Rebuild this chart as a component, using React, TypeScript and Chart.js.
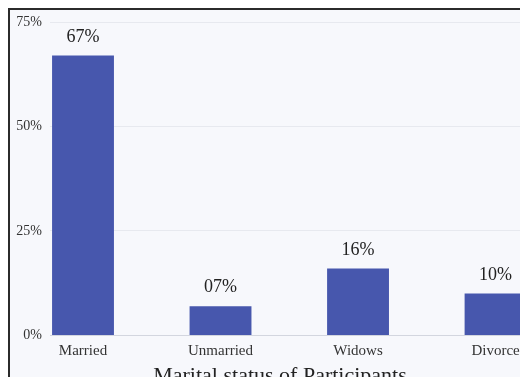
import { useEffect, useRef } from "react";
import { Chart, registerables } from "chart.js";

Chart.register(...registerables);

// Share of participants per marital status (%)
const categories = ["Married", "Unmarried", "Widows", "Divorce"];
const shares = [67, 7, 16, 10];
const yTickValues = [0, 25, 50, 75];
const axisTitle = "Marital status of Participants";

const SERIF = '"Liberation Serif", "Times New Roman", serif';
const BAR_COLOR = "#4757ad";

const formatShare = (v: number) => String(v).padStart(2, "0") + "%";

// Writes the percentage above each bar
const valueLabels = {
  id: "valueLabels",
  afterDatasetsDraw(chart: any) {
    const { ctx } = chart;
    const meta = chart.getDatasetMeta(0);
    ctx.save();
    ctx.font = `18px ${SERIF}`;
    ctx.fillStyle = "#222222";
    ctx.textAlign = "center";
    ctx.textBaseline = "middle";
    meta.data.forEach((bar: any, i: number) => {
      ctx.fillText(formatShare(shares[i]), bar.x, bar.y - 18.5);
    });
    ctx.restore();
  },
};

export default function App() {
  const canvasRef = useRef<HTMLCanvasElement | null>(null);

  useEffect(() => {
    if (!canvasRef.current) return;
    const chart = new Chart(canvasRef.current, {
      type: "bar",
      data: {
        datasets: [
          {
            data: shares.map((v, i) => ({ x: i, y: v })),
            backgroundColor: BAR_COLOR,
            barPercentage: 0.45,
            categoryPercentage: 1,
          },
        ],
      },
      options: {
        animation: false,
        responsive: true,
        maintainAspectRatio: false,
        // negative right padding shifts the centred axis title to the left
        layout: { padding: { left: 0, right: -22, top: 12, bottom: 0 } },
        plugins: {
          legend: { display: false },
          tooltip: { enabled: false },
          title: {
            display: true,
            position: "bottom",
            text: axisTitle,
            color: "#222222",
            font: { family: SERIF, size: 22, weight: "normal", lineHeight: 0.8 },
            padding: 0,
          },
        },
        scales: {
          x: {
            type: "linear",
            offset: false,
            min: -0.24,
            max: 3.236,
            grid: { display: false, drawTicks: false },
            border: { display: false },
            afterBuildTicks: (scale: any) => {
              scale.ticks = categories.map((_, i) => ({ value: i }));
            },
            ticks: {
              autoSkip: false,
              maxRotation: 0,
              padding: 7,
              color: "#333333",
              font: { family: SERIF, size: 15 },
              callback: (v: any) => categories[v as number] ?? "",
            },
          },
          y: {
            min: 0,
            max: 75,
            afterBuildTicks: (scale: any) => {
              scale.ticks = yTickValues.map((v) => ({ value: v }));
            },
            afterFit: (scale: any) => {
              scale.width = 40;
            },
            border: { display: false },
            grid: {
              drawTicks: false,
              color: (ctx: any) => (ctx.tick && ctx.tick.value === 0 ? "#d3d6df" : "#e7e9ef"),
            },
            ticks: {
              padding: 8,
              color: "#333333",
              font: { family: SERIF, size: 14, lineHeight: 0.5 },
              callback: (v: any) => v + "%",
            },
          },
        },
      },
      plugins: [valueLabels],
    });
    return () => chart.destroy();
  }, []);

  return (
    <div
      style={{
        width: 518,
        height: 375,
        marginBottom: -8,
        borderTop: "2px solid #2b2b2b",
        borderLeft: "2px solid #2b2b2b",
        background: "#f7f8fc",
        position: "relative",
      }}
    >
      <canvas ref={canvasRef} />
    </div>
  );
}
